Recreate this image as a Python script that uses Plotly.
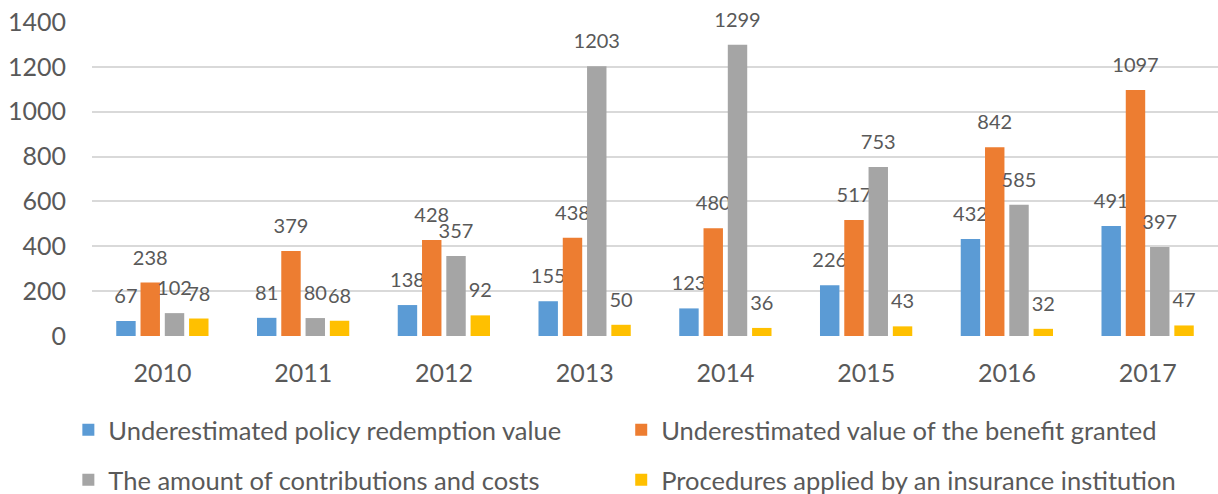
import plotly.graph_objects as go

years = ["2010", "2011", "2012", "2013", "2014", "2015", "2016", "2017"]

series_names = [
    "Underestimated policy redemption value",
    "Underestimated value of the benefit granted",
    "The amount of contributions and costs",
    "Procedures applied by an insurance institution",
]
redemption = [67, 81, 138, 155, 123, 226, 432, 491]
benefit = [238, 379, 428, 438, 480, 517, 842, 1097]
contributions = [102, 80, 357, 1203, 1299, 753, 585, 397]
procedures = [78, 68, 92, 50, 36, 43, 32, 47]

colors = ["#5B9BD5", "#ED7D31", "#A5A5A5", "#FFC000"]
# one legend per series so the 2x2 grid can be placed like the Excel original
legends = ["legend", "legend2", "legend3", "legend4"]

FONT = "Lato, Carlito, Calibri, sans-serif"
TEXT = "#595959"

fig = go.Figure()
for name, vals, color, lg in zip(series_names,
                                 [redemption, benefit, contributions, procedures],
                                 colors, legends):
    # small blank second line lifts the label above the bar, like Excel does
    labels = [f"<span style='font-size:20px'>{v}</span><br> " for v in vals]
    fig.add_trace(go.Bar(
        x=years, y=vals, name=name,
        marker=dict(color=color, line=dict(width=0)),
        text=labels, textposition="outside", constraintext="none",
        cliponaxis=False,
        textfont=dict(family=FONT, size=10, color=TEXT),
        hovertemplate="%{x}: %{y}<extra>" + name + "</extra>",
        legend=lg,
    ))

legend_style = dict(
    orientation="h", xanchor="left", yanchor="middle",
    font=dict(family=FONT, size=25.5, color=TEXT),
    bgcolor="rgba(0,0,0,0)",
)

col1, col2 = -0.021, 0.470
row1, row2 = -0.30, -0.459

fig.update_layout(
    width=1218, height=494,
    barmode="group", bargap=0.31, bargroupgap=0.2,
    margin=dict(l=92, r=0, t=22, b=158, autoexpand=False),
    plot_bgcolor="white", paper_bgcolor="white",
    font=dict(family=FONT, color=TEXT),
    showlegend=True,
    legend=dict(x=col1, y=row1, **legend_style),
    legend2=dict(x=col2, y=row1, **legend_style),
    legend3=dict(x=col1, y=row2, **legend_style),
    legend4=dict(x=col2, y=row2, **legend_style),
    xaxis=dict(showgrid=False, showline=False, ticks="",
               tickfont=dict(family=FONT, size=25, color=TEXT),
               ticklabelstandoff=20),
    yaxis=dict(range=[0, 1400], dtick=200, showgrid=True,
               gridcolor="#D9D9D9", gridwidth=1.5, zeroline=False,
               showline=False, ticks="",
               tickfont=dict(family=FONT, size=25, color=TEXT),
               ticklabelstandoff=25),
)

fig.write_html("out.html", config={"displayModeBar": False},
               post_script="document.body.style.margin='0px';")
